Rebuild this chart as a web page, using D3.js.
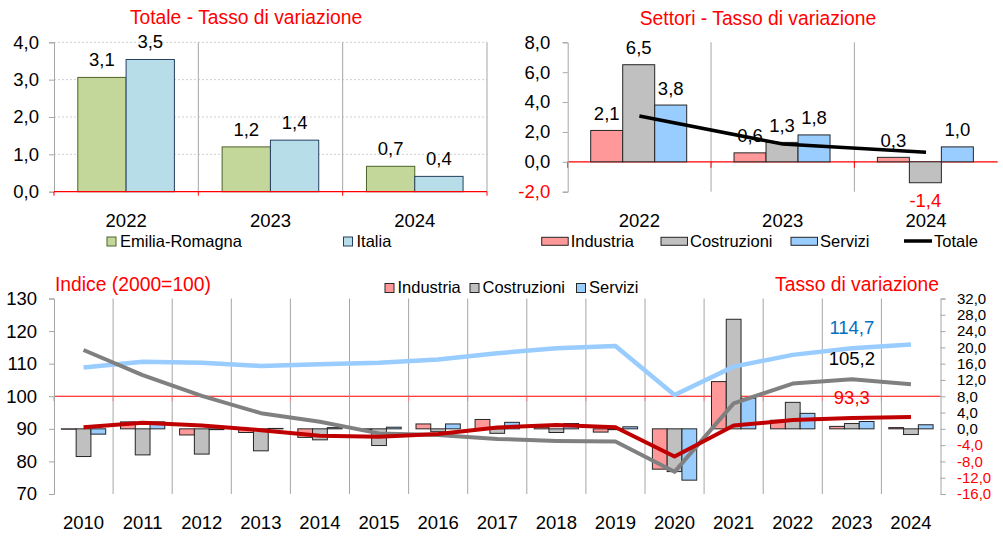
<!DOCTYPE html>
<html><head><meta charset="utf-8">
<script src="https://cdn.jsdelivr.net/npm/d3@7"></script>
<style>body{margin:0;background:#fff} svg{display:block;font-family:"Liberation Sans",Arial,sans-serif}</style>
</head><body>
<svg id="c" width="1003" height="536"></svg>
<script>
// ---------- DATA ----------
// Chart 1: Totale - Tasso di variazione
const totYears = ["2022", "2023", "2024"];
const totSeries = ["Emilia-Romagna", "Italia"];
const totER = [3.06, 1.2, 0.68];
const totIT = [3.54, 1.38, 0.41];

// Chart 2: Settori - Tasso di variazione
const secYears = ["2022", "2023", "2024"];
const secSeries = ["Industria", "Costruzioni", "Servizi"];
const secInd = [2.1, 0.6, 0.3];
const secCos = [6.5, 1.3, -1.4];
const secSer = [3.8, 1.8, 1.0];
const secTot = [3.07, 1.19, 0.64];

// Chart 3: Indice (2000=100) and Tasso di variazione
const years = ["2010","2011","2012","2013","2014","2015","2016","2017","2018","2019","2020","2021","2022","2023","2024"];
const idxInd = [90.5, 91.9, 91.0, 89.6, 87.9, 87.6, 88.4, 90.4, 91.2, 90.5, 81.5, 91.0, 92.7, 93.3, 93.6];
const idxCos = [114.2, 106.5, 100.1, 94.8, 92.2, 88.6, 88.1, 86.9, 86.3, 86.1, 76.8, 97.8, 103.9, 105.2, 103.7];
const idxSer = [108.8, 110.6, 110.3, 109.3, 109.8, 110.3, 111.3, 113.2, 114.7, 115.4, 100.4, 109.1, 112.7, 114.7, 115.9];
const gInd = [-0.1, 1.7, -1.5, -0.9, -2.1, -0.2, 1.2, 2.3, 0.4, -0.8, -9.9, 11.6, 2.1, 0.6, 0.3];
const gCos = [-6.8, -6.4, -6.2, -5.4, -2.7, -4.1, -0.7, -1.1, -0.9, -0.2, -10.5, 26.9, 6.5, 1.3, -1.4];
const gSer = [-1.3, 1.7, -0.2, 0.1, 0.3, 0.4, 1.2, 1.6, 1.3, 0.5, -12.6, 7.5, 3.8, 1.8, 1.0];
const leftTicks = [70, 80, 90, 100, 110, 120, 130];
const rightTicks = [-16, -12, -8, -4, 0, 4, 8, 12, 16, 20, 24, 28, 32];
const labelYear = "2023";

// ---------- STYLE ----------
const C = {
  er: "#c4d79b", erS: "#4f6228", it: "#b7dee8", itS: "#254061",
  ind: "#ff9999", cos: "#c0c0c0", ser: "#99ccff", barS: "#262626",
  lInd: "#c00000", lCos: "#808080", lSer: "#99ccff",
  grid: "#a6a6a6", red: "#ff0000"
};
const svg = d3.select("#c");
const fmt = v => d3.format(".1f")(v).replace("\u2212", "-").replace(".", ",");
const FT = 18.5, FL = 16.5, FH = 19.3;

function styleAxis(g, negRed) {
  g.select(".domain").attr("stroke", C.grid);
  g.selectAll(".tick line").attr("stroke", C.grid);
  g.selectAll(".tick text").attr("font-size", FT).attr("font-family", "Liberation Sans, Arial, sans-serif")
    .attr("fill", d => (negRed && d < 0) ? C.red : "#000");
}

// ================= CHART 1 =================
{
  const x = d3.scaleBand().domain(totYears).range([54, 487]);
  const xs = d3.scaleBand().domain(totSeries).range([23.8, 120.4]);
  const y = d3.scaleLinear().domain([0, 4]).range([191.7, 42.3]);
  const g = svg.append("g");
  g.selectAll(".hg").data([1, 2, 3, 4]).join("line")
    .attr("x1", 54).attr("x2", 487).attr("y1", d => y(d)).attr("y2", d => y(d))
    .attr("stroke", "#d0d0d0").attr("stroke-dasharray", "2,2");
  const seps = totYears.slice(1).map(d => x(d)).concat([x(totYears[2]) + x.bandwidth()]);
  g.selectAll(".vg").data(seps).join("line")
    .attr("x1", d => d).attr("x2", d => d).attr("y1", y(4)).attr("y2", y(0))
    .attr("stroke", C.grid);
  const rows = totYears.map((yr, i) => ({ yr, vals: [{ s: totSeries[0], v: totER[i] }, { s: totSeries[1], v: totIT[i] }] }));
  const grp = g.selectAll(".grp").data(rows).join("g").attr("transform", d => `translate(${x(d.yr)},0)`);
  grp.selectAll("rect").data(d => d.vals).join("rect")
    .attr("x", d => xs(d.s)).attr("width", xs.bandwidth())
    .attr("y", d => y(d.v)).attr("height", d => y(0) - y(d.v))
    .attr("fill", d => d.s === totSeries[0] ? C.er : C.it)
    .attr("stroke", d => d.s === totSeries[0] ? C.erS : C.itS).attr("stroke-width", 1);
  grp.selectAll("text").data(d => d.vals).join("text")
    .attr("x", d => xs(d.s) + xs.bandwidth() / 2).attr("y", d => y(d.v) - 11)
    .attr("text-anchor", "middle").attr("font-size", FT).text(d => fmt(d.v));
  const ax = g.append("g").attr("transform", "translate(54,0)")
    .call(d3.axisLeft(y).tickValues([0, 1, 2, 3, 4]).tickSize(5).tickPadding(10).tickFormat(fmt));
  styleAxis(ax, false);
  g.append("line").attr("x1", 54).attr("x2", 487).attr("y1", y(0)).attr("y2", y(0)).attr("stroke", C.red).attr("stroke-width", 1.3);
  g.selectAll(".rt").data([54].concat(seps)).join("line")
    .attr("x1", d => d).attr("x2", d => d).attr("y1", y(0)).attr("y2", y(0) + 4).attr("stroke", C.red);
  g.selectAll(".yl").data(totYears).join("text")
    .attr("x", d => x(d) + x.bandwidth() / 2).attr("y", 227).attr("text-anchor", "middle")
    .attr("font-size", FT).text(d => d);
  g.append("text").attr("x", 246).attr("y", 24.3).attr("text-anchor", "middle").attr("fill", C.red)
    .attr("font-size", FH).text("Totale - Tasso di variazione");
  const leg = [{ s: totSeries[0], x: 107, f: C.er, st: C.erS }, { s: totSeries[1], x: 343.5, f: C.it, st: C.itS }];
  leg.forEach(l => {
    g.append("rect").attr("x", l.x).attr("y", 237).attr("width", 9).attr("height", 9).attr("fill", l.f).attr("stroke", l.st);
    g.append("text").attr("x", l.x + 13).attr("y", 246.5).attr("font-size", FL).text(l.s);
  });
}

// ================= CHART 2 =================
{
  const x = d3.scaleBand().domain(secYears).range([567.7, 997.7]);
  const xs = d3.scaleBand().domain(secSeries).range([23, 119]);
  const y = d3.scaleLinear().domain([-2, 8]).range([191.7, 42.3]);
  const g = svg.append("g");
  const seps = secYears.slice(1).map(d => x(d));
  g.selectAll(".vg").data(seps).join("line")
    .attr("x1", d => d).attr("x2", d => d).attr("y1", y(8)).attr("y2", y(-2)).attr("stroke", C.grid);
  const cols = { Industria: C.ind, Costruzioni: C.cos, Servizi: C.ser };
  const rows = secYears.map((yr, i) => ({ yr, vals: [
    { s: "Industria", v: secInd[i] }, { s: "Costruzioni", v: secCos[i] }, { s: "Servizi", v: secSer[i] }] }));
  g.append("line").attr("x1", 567.7).attr("x2", 997.7).attr("y1", y(0)).attr("y2", y(0)).attr("stroke", C.red).attr("stroke-width", 1.2);
  const grp = g.selectAll(".grp").data(rows).join("g").attr("transform", d => `translate(${x(d.yr)},0)`);
  grp.selectAll("rect").data(d => d.vals).join("rect")
    .attr("x", d => xs(d.s)).attr("width", xs.bandwidth())
    .attr("y", d => y(Math.max(0, d.v))).attr("height", d => Math.abs(y(0) - y(d.v)))
    .attr("fill", d => cols[d.s]).attr("stroke", C.barS).attr("stroke-width", 1);
  g.selectAll(".rt").data([567.7].concat(seps)).join("line")
    .attr("x1", d => d).attr("x2", d => d).attr("y1", y(0)).attr("y2", y(0) + 6).attr("stroke", C.red);
  const line = d3.line().x((d, i) => x(secYears[i]) + x.bandwidth() / 2).y(d => y(d));
  g.append("path").attr("d", line(secTot)).attr("fill", "none").attr("stroke", "#000").attr("stroke-width", 3.5);
  grp.selectAll("text").data(d => d.vals).join("text")
    .attr("x", d => xs(d.s) + xs.bandwidth() / 2)
    .attr("y", d => d.v >= 0 ? y(d.v) - 10.5 : y(d.v) + 24)
    .attr("text-anchor", "middle").attr("font-size", FT)
    .attr("fill", d => d.v < 0 ? C.red : "#000").text(d => fmt(d.v));
  const ax = g.append("g").attr("transform", "translate(567.7,0)")
    .call(d3.axisLeft(y).tickValues([-2, 0, 2, 4, 6, 8]).tickSize(5).tickPadding(12.5).tickFormat(fmt));
  styleAxis(ax, true);
  g.selectAll(".yl").data(secYears).join("text")
    .attr("x", d => x(d) + x.bandwidth() / 2).attr("y", 227).attr("text-anchor", "middle")
    .attr("font-size", FT).text(d => d);
  g.append("text").attr("x", 758).attr("y", 25).attr("text-anchor", "middle").attr("fill", C.red)
    .attr("font-size", FH).text("Settori - Tasso di variazione");
  const leg = [{ s: "Industria", x: 541.7 }, { s: "Costruzioni", x: 661 }, { s: "Servizi", x: 791 }];
  leg.forEach(l => {
    g.append("rect").attr("x", l.x).attr("y", 237.3).attr("width", 26.5).attr("height", 8).attr("fill", cols[l.s]).attr("stroke", C.barS);
    g.append("text").attr("x", l.x + 29).attr("y", 246.5).attr("font-size", FL).text(l.s);
  });
  g.append("line").attr("x1", 904).attr("x2", 932).attr("y1", 241).attr("y2", 241).attr("stroke", "#000").attr("stroke-width", 3.5);
  g.append("text").attr("x", 934).attr("y", 246.5).attr("font-size", FL).text("Totale");
}

// ================= CHART 3 =================
{
  const x = d3.scaleBand().domain(years).range([54, 940.5]);
  const xs = d3.scaleBand().domain(["Industria", "Costruzioni", "Servizi"]).range([7.4, 51.7]);
  const yL = d3.scaleLinear().domain([70, 130]).range([494, 298.5]);
  const yR = d3.scaleLinear().domain([-16, 32]).range([494, 298.5]);
  const g = svg.append("g");
  const seps = years.slice(1).map(d => x(d));
  g.selectAll(".vg").data(seps).join("line")
    .attr("x1", d => d).attr("x2", d => d).attr("y1", yL(130)).attr("y2", yL(70)).attr("stroke", C.grid);
  g.append("line").attr("x1", 54).attr("x2", 940.5).attr("y1", yL(100)).attr("y2", yL(100)).attr("stroke", C.red).attr("stroke-width", 1.2);
  g.selectAll(".rt").data([54].concat(seps)).join("line")
    .attr("x1", d => d).attr("x2", d => d).attr("y1", yL(100)).attr("y2", yL(100) + 5).attr("stroke", "#ff8080");
  const cols = { Industria: C.ind, Costruzioni: C.cos, Servizi: C.ser };
  const rows = years.map((yr, i) => ({ yr, vals: [
    { s: "Industria", v: gInd[i] }, { s: "Costruzioni", v: gCos[i] }, { s: "Servizi", v: gSer[i] }] }));
  const grp = g.selectAll(".grp").data(rows).join("g").attr("transform", d => `translate(${x(d.yr)},0)`);
  grp.selectAll("rect").data(d => d.vals).join("rect")
    .attr("x", d => xs(d.s)).attr("width", xs.bandwidth())
    .attr("y", d => yR(Math.max(0, d.v))).attr("height", d => Math.abs(yR(0) - yR(d.v)))
    .attr("fill", d => cols[d.s]).attr("stroke", C.barS).attr("stroke-width", 1);
  const line = d3.line().x((d, i) => x(years[i]) + x.bandwidth() / 2).y(d => yL(d));
  [[idxSer, C.lSer, 4.5], [idxCos, C.lCos, 4], [idxInd, C.lInd, 4]].forEach(([arr, col, w]) => {
    g.append("path").attr("d", line(arr)).attr("fill", "none").attr("stroke", col).attr("stroke-width", w)
      .attr("stroke-linejoin", "round");
  });
  const li = years.indexOf(labelYear);
  const lx = x(labelYear) + x.bandwidth() / 2;
  [[idxSer[li], "#0070c0"], [idxCos[li], "#000"], [idxInd[li], C.red]].forEach(([v, col]) => {
    g.append("text").attr("x", lx).attr("y", yL(v) - 14).attr("text-anchor", "middle")
      .attr("font-size", FT).attr("fill", col).text(fmt(v));
  });
  const axL = g.append("g").attr("transform", "translate(54,0)")
    .call(d3.axisLeft(yL).tickValues(leftTicks).tickSize(5).tickPadding(12).tickFormat(d3.format("d")));
  styleAxis(axL, false);
  const axR = g.append("g").attr("transform", "translate(940.5,0)")
    .call(d3.axisRight(yR).tickValues(rightTicks).tickSize(5).tickPadding(11.5).tickFormat(fmt));
  styleAxis(axR, true);
  axR.selectAll(".tick text").attr("font-size", 15);
  g.selectAll(".yl").data(years).join("text")
    .attr("x", d => x(d) + x.bandwidth() / 2).attr("y", 529).attr("text-anchor", "middle")
    .attr("font-size", FT).text(d => d);
  g.append("text").attr("x", 55).attr("y", 290.7).attr("fill", C.red).attr("font-size", FH).text("Indice (2000=100)");
  g.append("text").attr("x", 939).attr("y", 290.7).attr("text-anchor", "end").attr("fill", C.red).attr("font-size", FH).text("Tasso di variazione");
  const leg = [{ s: "Industria", x: 385 }, { s: "Costruzioni", x: 470 }, { s: "Servizi", x: 576.5 }];
  leg.forEach(l => {
    g.append("rect").attr("x", l.x).attr("y", 283.5).attr("width", 9).attr("height", 9).attr("fill", cols[l.s]).attr("stroke", C.barS);
    g.append("text").attr("x", l.x + 12.5).attr("y", 292.5).attr("font-size", FL).text(l.s);
  });
}
</script></body></html>
